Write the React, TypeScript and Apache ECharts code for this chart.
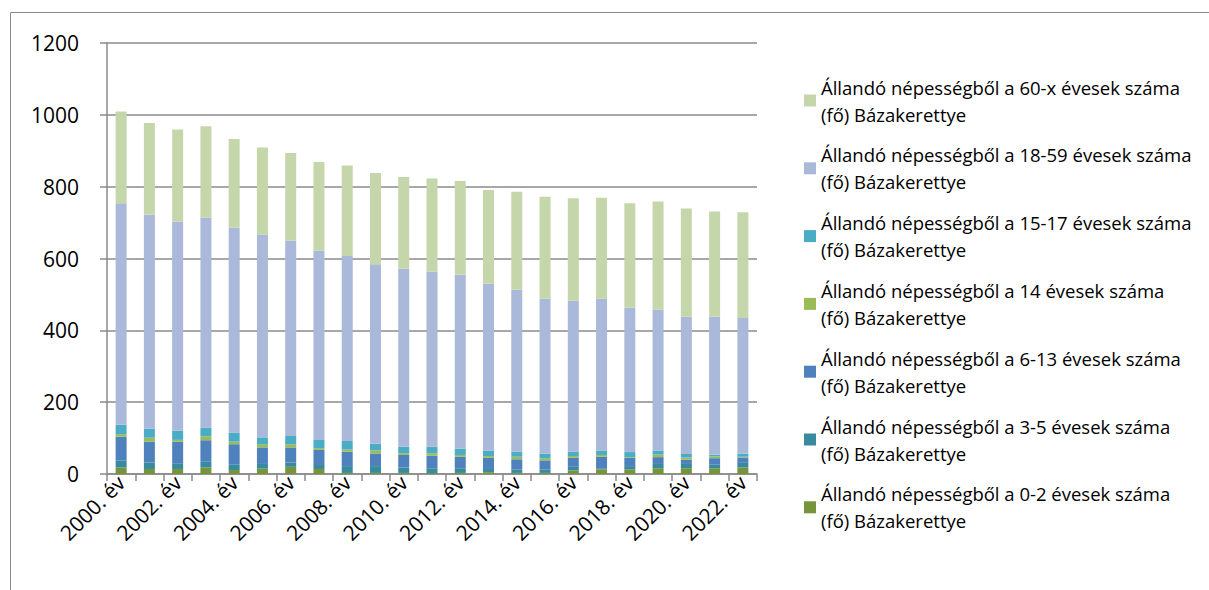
import React, { useEffect, useRef } from "react";
import * as echarts from "echarts";

const years = [
  "2000. év", "2001. év", "2002. év", "2003. év", "2004. év", "2005. év",
  "2006. év", "2007. év", "2008. év", "2009. év", "2010. év", "2011. év",
  "2012. év", "2013. év", "2014. év", "2015. év", "2016. év", "2017. év",
  "2018. év", "2019. év", "2020. év", "2021. év", "2022. év",
];

const age0_2 = [18, 14, 14, 18, 11, 15, 20, 14, 3, 3, 3, 2, 3, 5, 3, 3, 10, 13, 13, 16, 16, 16, 18];
const age3_5 = [19, 18, 16, 16, 16, 13, 12, 11, 19, 19, 15, 14, 13, 9, 9, 9, 10, 3, 9, 12, 12, 11, 13];
const age6_13 = [67, 58, 60, 60, 56, 46, 42, 42, 40, 35, 35, 35, 32, 31, 29, 26, 25, 32, 23, 19, 12, 17, 15];
const age14 = [7, 11, 5, 11, 7, 9, 9, 5, 6, 9, 5, 7, 5, 5, 7, 6, 5, 5, 2, 7, 6, 5, 2];
const age15_17 = [26, 25, 26, 24, 25, 19, 23, 23, 24, 18, 18, 18, 18, 15, 14, 13, 12, 12, 14, 11, 10, 5, 9];
const age18_59 = [617, 596, 581, 585, 571, 565, 544, 527, 515, 500, 496, 488, 484, 465, 451, 431, 421, 423, 402, 393, 382, 384, 377];
const age60x = [255, 255, 257, 254, 247, 242, 244, 247, 252, 254, 255, 259, 261, 261, 273, 284, 285, 281, 291, 301, 301, 293, 295];

const seriesNames = [
  "Állandó népességből a 0-2 évesek száma (fő) Bázakerettye",
  "Állandó népességből a 3-5 évesek száma (fő) Bázakerettye",
  "Állandó népességből a 6-13 évesek száma (fő) Bázakerettye",
  "Állandó népességből a 14 évesek száma (fő) Bázakerettye",
  "Állandó népességből a 15-17 évesek száma (fő) Bázakerettye",
  "Állandó népességből a 18-59 évesek száma (fő) Bázakerettye",
  "Állandó népességből a 60-x évesek száma (fő) Bázakerettye",
];
const seriesData = [age0_2, age3_5, age6_13, age14, age15_17, age18_59, age60x];
const seriesColors = ["#77933C", "#388A9F", "#4F81BD", "#9BBB59", "#4BACC6", "#AAB9D9", "#C5D7AA"];

const yTicks = [0, 200, 400, 600, 800, 1000, 1200];

const FONT = "'Open Sans', 'Noto Sans', sans-serif";
const AXIS_GRAY = "#8a8a8a";

export default function App() {
  const ref = useRef<HTMLDivElement>(null);

  useEffect(() => {
    if (!ref.current) return;
    const chart = echarts.init(ref.current, undefined, { renderer: "svg" });
    const option = {
      animation: false,
      backgroundColor: "#ffffff",
      graphic: [
        {
          type: "rect",
          silent: true,
          z: 0,
          shape: { x: 10.5, y: 12.5, width: 1400, height: 800 },
          style: { fill: "none", stroke: "#8a8a8a", lineWidth: 1 },
        },
      ],
      grid: { left: 107, right: 452, top: 43, bottom: 116, containLabel: false },
      legend: {
        orient: "vertical",
        left: 804,
        top: 60,
        padding: 0,
        itemWidth: 12,
        itemHeight: 12,
        itemGap: -13.2,
        icon: "rect",
        selectedMode: false,
        data: seriesNames.slice().reverse(),
        formatter: (n: string) => n.replace(" (fő)", "\n(fő)"),
        textStyle: {
          fontFamily: FONT,
          fontSize: 18.5,
          lineHeight: 27,
          color: "#000",
          padding: [27, 0, 0, 0],
        },
      },
      xAxis: {
        type: "category",
        data: years,
        axisLine: { show: true, lineStyle: { color: AXIS_GRAY, width: 1.5 } },
        axisTick: { show: true, interval: 0, length: 7, alignWithLabel: false, lineStyle: { color: AXIS_GRAY, width: 1.5 } },
        axisLabel: {
          interval: 1,
          rotate: 45,
          margin: 5,
          fontFamily: FONT,
          fontSize: 21,
          color: "#000",
        },
        splitLine: { show: false },
      },
      yAxis: {
        type: "value",
        min: yTicks[0],
        max: yTicks[yTicks.length - 1],
        interval: 200,
        axisLine: { show: true, lineStyle: { color: AXIS_GRAY, width: 1.5 } },
        axisTick: { show: true, length: 7, lineStyle: { color: AXIS_GRAY, width: 1.5 } },
        axisLabel: {
          margin: 28,
          fontFamily: FONT,
          fontSize: 21,
          color: "#000",
          formatter: (v: number) => String(v),
        },
        splitLine: { show: true, lineStyle: { color: AXIS_GRAY, width: 1.5 } },
      },
      series: seriesNames.map((name, i) => ({
        name,
        type: "bar",
        stack: "total",
        barWidth: 11,
        data: seriesData[i],
        itemStyle: { color: seriesColors[i] },
        emphasis: { disabled: true },
      })),
    };
    chart.setOption(option);
    return () => chart.dispose();
  }, []);

  return (
    <div
      ref={ref}
      style={{ position: "fixed", left: 0, top: 0, width: 1209, height: 590 }}
    />
  );
}
